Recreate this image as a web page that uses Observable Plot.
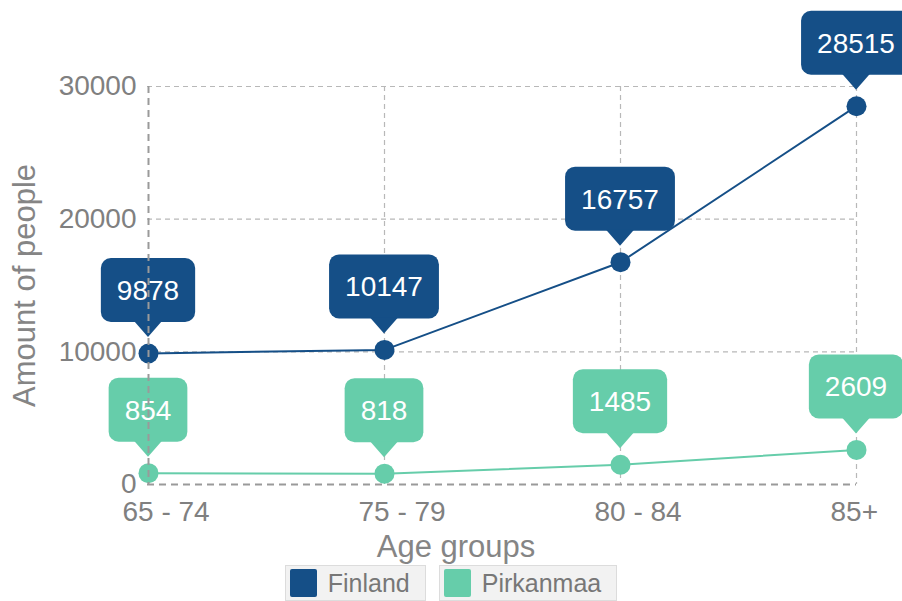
<!DOCTYPE html>
<html><head><meta charset="utf-8">
<script src="https://cdn.jsdelivr.net/npm/d3@7"></script>
<script src="https://cdn.jsdelivr.net/npm/@observablehq/plot@0.6"></script>
<style>
body{margin:0;background:#fff;overflow:hidden;font-family:"Liberation Sans",Arial,sans-serif;}
#legend{display:flex;justify-content:center;gap:13px;margin-top:-1px;}
.item{display:flex;align-items:center;height:36px;box-sizing:border-box;border:1px solid #dcdcdc;background:#f2f2f2;padding:0 15px 0 4px;font-size:25px;color:#777;}
.sw{width:27px;height:28px;border-radius:2px;margin-right:11px;box-sizing:border-box;}
</style></head><body><div id="chart"></div><div id="legend"></div>
<script>
const ageGroups = ["65 - 74", "75 - 79", "80 - 84", "85+"];
const finland = [9878, 10147, 16757, 28515];
const pirkanmaa = [854, 818, 1485, 2609];
const seriesNames = ["Finland", "Pirkanmaa"];
const seriesColors = ["#154f87", "#66cdaa"];
const yTicks = [0, 10000, 20000, 30000];

const seriesValues = [finland, pirkanmaa];
const rows = seriesNames.flatMap((s, i) => seriesValues[i].map((v, j) => ({series: s, age: ageGroups[j], value: v})));

const FONT = "'Liberation Sans', Arial, sans-serif";
const canvas = document.createElement("canvas");
const ctx = canvas.getContext("2d");
ctx.font = "28px " + FONT;

const NS = "http://www.w3.org/2000/svg";
function callouts(index, scales) {
  const g = document.createElementNS(NS, "g");
  for (const d of rows) {
    const px = scales.x(d.age), py = scales.y(d.value);
    const fill = seriesColors[seriesNames.indexOf(d.series)];
    const label = String(d.value);
    const w = ctx.measureText(label).width + 32, h = 64;
    const bottom = py - 31, top = bottom - h;
    const rect = document.createElementNS(NS, "rect");
    rect.setAttribute("x", px - w / 2); rect.setAttribute("y", top);
    rect.setAttribute("width", w); rect.setAttribute("height", h);
    rect.setAttribute("rx", 10); rect.setAttribute("fill", fill);
    g.appendChild(rect);
    const tri = document.createElementNS(NS, "path");
    tri.setAttribute("d", `M${px - 14},${bottom - 1}L${px},${py - 16}L${px + 14},${bottom - 1}Z`);
    tri.setAttribute("fill", fill);
    g.appendChild(tri);
    const t = document.createElementNS(NS, "text");
    t.setAttribute("x", px); t.setAttribute("y", top + h / 2);
    t.setAttribute("dy", "0.36em");
    t.setAttribute("text-anchor", "middle");
    t.setAttribute("fill", "#fff");
    t.setAttribute("font-size", 28);
    t.setAttribute("font-family", FONT);
    t.textContent = label;
    g.appendChild(t);
  }
  return g;
}

const chart = Plot.plot({
  width: 902,
  height: 566,
  marginLeft: 147,
  marginRight: 46,
  marginTop: 86,
  marginBottom: 82,
  style: {fontFamily: FONT, background: "white", overflow: "hidden"},
  x: {type: "point", domain: ageGroups, padding: 0, axis: null},
  y: {domain: [0, 30000], axis: null},
  color: {domain: seriesNames, range: seriesColors},
  marks: [
    Plot.ruleY(yTicks.slice(1), {stroke: "#b8b8b8", strokeWidth: 1.2, strokeDasharray: "5,4"}),
    Plot.ruleX(ageGroups.slice(1), {stroke: "#b8b8b8", strokeWidth: 1.2, strokeDasharray: "5,4"}),
    Plot.ruleY([0], {stroke: "#9a9a9a", strokeWidth: 2, strokeDasharray: "7,5"}),
    Plot.line(rows, {x: "age", y: "value", z: "series", stroke: "series", strokeWidth: 2}),
    Plot.dot(rows, {x: "age", y: "value", fill: "series", r: 10}),
    callouts,
    Plot.ruleX([ageGroups[0]], {stroke: "#9a9a9a", strokeWidth: 2, strokeDasharray: "7,5"}),
    Plot.text(yTicks, {y: d => d, text: d => String(d), frameAnchor: "left", textAnchor: "end", dx: -11, fontSize: 28, fill: "#808080"}),
    Plot.text(ageGroups, {x: d => d, text: d => d, frameAnchor: "bottom", textAnchor: "start", lineAnchor: "middle", dx: -26, dy: 28, fontSize: 28, fill: "#808080"}),
    Plot.text(["Age groups"], {text: d => d, frameAnchor: "bottom", lineAnchor: "middle", dx: -46, dy: 63, fontSize: 31, fill: "#858585"}),
    Plot.text(["Amount of people"], {text: d => d, frameAnchor: "left", rotate: -90, textAnchor: "middle", lineAnchor: "middle", dx: -122, fontSize: 31, fill: "#858585"})
  ]
});
document.getElementById("chart").appendChild(chart);

const legend = document.getElementById("legend");
seriesNames.forEach((s, i) => {
  const item = document.createElement("div");
  item.className = "item";
  const sw = document.createElement("div");
  sw.className = "sw";
  sw.style.background = seriesColors[i];
  item.appendChild(sw);
  const lab = document.createElement("span");
  lab.textContent = s;
  item.appendChild(lab);
  legend.appendChild(item);
});
</script></body></html>
